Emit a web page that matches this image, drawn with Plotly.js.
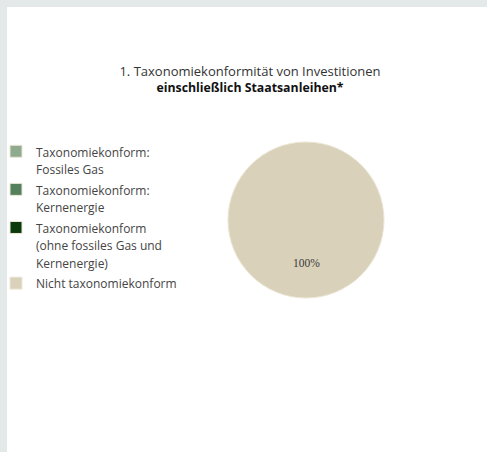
<!DOCTYPE html>
<html>
<head>
<meta charset="utf-8">
<script src="https://cdn.plot.ly/plotly-3.0.1.min.js"></script>
<style>
  html, body { margin: 0; padding: 0; background: #e3e9e8; width: 487px; height: 452px; overflow: hidden; }
  #chart { position: absolute; left: 7px; top: 7px; width: 480px; height: 445px; background: #fff; }
</style>
</head>
<body>
<div id="chart"></div>
<script>
const categories = [
  "Taxonomiekonform:<br>Fossiles Gas",
  "Taxonomiekonform:<br>Kernenergie",
  "Taxonomiekonform<br>(ohne fossiles Gas und<br>Kernenergie)",
  "Nicht taxonomiekonform"
];
const values = [0, 0, 0, 100];
const colors = ["#8fab8f", "#55805d", "#0b3b0c", "#d9d1b9"];
const titleLine1 = "1. Taxonomiekonformität von Investitionen";
const titleLine2 = "einschließlich Staatsanleihen*";

const W = 480, H = 445;
const cx = 299, cy = 213, r = 78;
const domX = [(cx - r) / W, (cx + r) / W];
const domY = [1 - (cy + r) / H, 1 - (cy - r) / H];

const total = values.reduce((a, b) => a + b, 0);
const annotations = [];
values.forEach((v, i) => {
  if (v / total >= 0.999) {
    annotations.push({
      text: Math.round(v / total * 100) + "%",
      xref: "paper", yref: "paper",
      x: cx / W, y: 1 - (cy + 0.55 * r) / H,
      showarrow: false,
      font: { family: "Liberation Serif, Times New Roman, serif", size: 11.5, color: "#3a3a3a" }
    });
  }
});

const legendLabels = categories.map(c =>
  c.split("<br>").map(s => '<span style="font-size:12px">' + s + '</span>').join("<br>")
);

const trace = {
  type: "pie",
  labels: legendLabels,
  values: values,
  sort: false,
  direction: "clockwise",
  marker: { colors: colors, line: { color: "#ece6d6", width: 1 } },
  textinfo: "none",
  hoverinfo: "label+percent",
  domain: { x: domX, y: domY },
  showlegend: true
};

const layout = {
  width: W, height: H,
  margin: { l: 0, r: 0, t: 0, b: 0, autoexpand: false },
  paper_bgcolor: "#ffffff",
  plot_bgcolor: "#ffffff",
  font: { family: "Open Sans, Noto Sans, sans-serif", color: "#444" },
  title: {
    text: '<span style="font-size:13px;color:#333">' + titleLine1 + '</span><br>' +
          '<span style="font-size:12.3px;color:#111"><b>' + titleLine2 + '</b></span>',
    x: 243 / W, xanchor: "center",
    y: 1 - 69 / H, yanchor: "top", yref: "container",
    font: { size: 12, color: "#333", family: "Open Sans, Noto Sans, sans-serif" }
  },
  legend: {
    x: -11 / W, y: 1 - 129 / H, xanchor: "left", yanchor: "top",
    valign: "top",
    font: { size: 13.5, color: "#444" },
    traceorder: "normal",
    bgcolor: "rgba(0,0,0,0)"
  },
  annotations: annotations
};

Plotly.newPlot("chart", [trace], layout, { displayModeBar: false, staticPlot: true });
</script>
</body>
</html>
